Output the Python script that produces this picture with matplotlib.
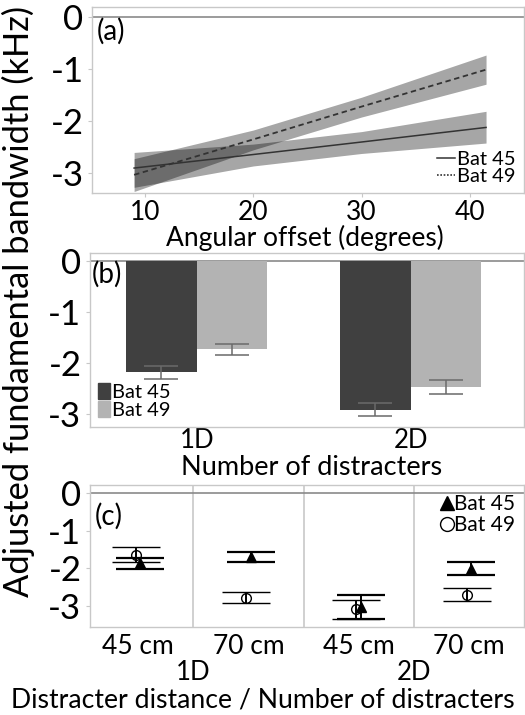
import matplotlib.pyplot as plt
import numpy as np
from matplotlib.lines import Line2D
from matplotlib.patches import Patch

plt.rcParams['font.family'] = ['Lato', 'DejaVu Sans']

# (a) regression lines with confidence bands
ang_x = [9, 20, 30, 41.5]
bat45_fit = [-2.90, -2.64, -2.40, -2.12]
bat45_lo = [-3.27, -2.86, -2.62, -2.42]
bat45_hi = [-2.60, -2.44, -2.20, -1.81]
bat49_fit = [-3.03, -2.35, -1.72, -1.01]
bat49_lo = [-3.35, -2.55, -1.92, -1.29]
bat49_hi = [-2.72, -2.17, -1.54, -0.73]
ang_ticks = [10, 20, 30, 40]

# (b) bars
groups = ['1D', '2D']
bar45 = [-2.18, -2.91]
bar45_err = [0.13, 0.12]
bar49 = [-1.73, -2.47]
bar49_err = [0.10, 0.13]

# (c) points
dist_labels = ['45 cm', '70 cm', '45 cm', '70 cm']
pt45 = [-1.86, -1.69, -3.01, -2.01]
pt45_err = [0.145, 0.135, 0.32, 0.17]
pt49 = [-1.64, -2.77, -3.08, -2.69]
pt49_err = [0.195, 0.145, 0.25, 0.18]

yticks = [0, -1, -2, -3]
frame = '#c8c8c8'


def style(ax):
    for s in ax.spines.values():
        s.set_color(frame)
        s.set_linewidth(1.0)
    ax.axhline(0, color='#8a8a8a', lw=1.2, zorder=1)
    ax.set_yticks(yticks)
    ax.set_yticklabels(['0', '-1', '-2', '-3'])
    ax.tick_params(axis='y', labelsize=25, color=frame, length=3, pad=3)
    ax.tick_params(axis='x', color=frame, length=3)


fig = plt.figure(figsize=(5.25, 7.15), dpi=100)
ax1 = fig.add_axes([0.175, 0.730, 0.823, 0.260])
ax2 = fig.add_axes([0.171, 0.403, 0.827, 0.243])
ax3 = fig.add_axes([0.171, 0.123, 0.827, 0.199])

# panel a
style(ax1)
ax1.fill_between(ang_x, bat45_lo, bat45_hi, color='black', alpha=0.35, lw=0)
ax1.fill_between(ang_x, bat49_lo, bat49_hi, color='black', alpha=0.35, lw=0)
ax1.plot(ang_x, bat45_fit, color='#333333', lw=1.1)
ax1.plot(ang_x, bat49_fit, color='#333333', lw=1.3, ls=(0, (3, 2)))
ax1.set_xlim(5.1, 45)
ax1.set_ylim(-3.38, 0.19)
ax1.set_xticks(ang_ticks)
ax1.tick_params(axis='x', labelsize=19, pad=2)
ax1.text(0.58, 0.667, 'Angular offset (degrees)', transform=fig.transFigure,
         fontsize=19, ha='center', va='center')
ax1.text(0.012, 0.87, '(a)', transform=ax1.transAxes, fontsize=20, va='center')
ax1.legend(handles=[Line2D([], [], color='#333333', lw=1.1, label='Bat 45'),
                    Line2D([], [], color='#333333', lw=1.2, ls=(0, (1, 1)), label='Bat 49')],
           loc='lower right', frameon=False, fontsize=14.5, handlelength=0.9,
           handletextpad=0.1, labelspacing=0.0, borderaxespad=0.0)

# panel b
style(ax2)
xb = np.arange(len(groups))
w = 0.33
ax2.bar(xb - w / 2, bar45, w, color='#404040', zorder=2)
ax2.bar(xb + w / 2, bar49, w, color='#b3b3b3', zorder=2)
ax2.errorbar(xb - w / 2, bar45, yerr=bar45_err, fmt='none', ecolor='#6a6a6a',
             elinewidth=1.1, capsize=12, capthick=1.1, zorder=3)
ax2.errorbar(xb + w / 2, bar49, yerr=bar49_err, fmt='none', ecolor='#6a6a6a',
             elinewidth=1.1, capsize=12, capthick=1.1, zorder=3)
ax2.set_xlim(-0.5, 1.53)
ax2.set_ylim(-3.25, 0.16)
ax2.set_xticks(xb)
ax2.set_xticklabels(groups)
ax2.tick_params(axis='x', labelsize=18.5, length=0, pad=1)
ax2.text(0.593, 0.346, 'Number of distracters', transform=fig.transFigure,
         fontsize=19.5, ha='center', va='center')
ax2.text(0.005, 0.88, '(b)', transform=ax2.transAxes, fontsize=20, va='center')
ax2.legend(handles=[Patch(color='#404040', label='Bat 45'), Patch(color='#b3b3b3', label='Bat 49')],
           loc='lower left', frameon=False, fontsize=14.5, handlelength=0.6, handleheight=0.8,
           handletextpad=0.1, labelspacing=0.0, borderaxespad=0.0)

# panel c
style(ax3)
xc = np.arange(len(dist_labels))
for d in [0.5, 1.5, 2.5]:
    ax3.axvline(d, color=frame, lw=1.2, zorder=0)
ax3.errorbar(xc + 0.02, pt45, yerr=pt45_err, fmt='^', color='black', ms=7,
             elinewidth=1.4, capsize=17, capthick=1.6, zorder=3)
ax3.errorbar(xc - 0.02, pt49, yerr=pt49_err, fmt='o', mfc='none', mec='black', ecolor='black',
             ms=7, mew=1.0, elinewidth=1.4, capsize=17, capthick=1.6, zorder=3)
ax3.set_xlim(-0.44, 3.5)
ax3.set_ylim(-3.55, 0.21)
ax3.set_xticks(xc)
ax3.set_xticklabels(dist_labels)
ax3.tick_params(axis='x', labelsize=19, length=0, pad=5)
for gx, g in zip([0.5, 2.5], groups):
    ax3.text(gx, -0.32, g, transform=ax3.get_xaxis_transform(), fontsize=18.5, ha='center', va='center')
ax3.text(0.5, 0.021, 'Distracter distance / Number of distracters', transform=fig.transFigure,
         fontsize=19.2, ha='center', va='center')
ax3.text(0.012, 0.78, '(c)', transform=ax3.transAxes, fontsize=20, va='center')
ax3.legend(handles=[Line2D([], [], marker='^', color='black', ls='none', ms=10, label='Bat 45'),
                    Line2D([], [], marker='o', mfc='none', mec='black', ls='none', ms=10, label='Bat 49')],
           loc='upper right', frameon=False, fontsize=15, handlelength=0.6, handletextpad=0.0,
           labelspacing=0.05, borderaxespad=0.05)

fig.text(0.036, 0.579, 'Adjusted fundamental bandwidth (kHz)', rotation=90, fontsize=24.8,
         ha='center', va='center')

fig.savefig('out.png', dpi=100)
